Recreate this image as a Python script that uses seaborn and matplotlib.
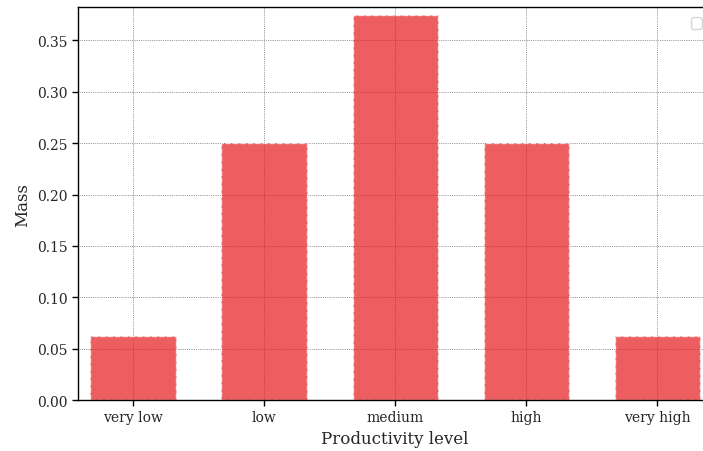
import numpy as np
import pandas as pd
import matplotlib
matplotlib.use('Agg')
import matplotlib.pyplot as plt
import seaborn as sns

levels = ['very low', 'low', 'medium', 'high', 'very high']
mass = [0.0625, 0.25, 0.375, 0.25, 0.0625]

sns.set_style('white')
plt.rcParams['font.family'] = ['DejaVu Serif']

fig = plt.figure(figsize=(7.03, 4.52), dpi=100)
ax = fig.add_axes([0.111, 0.1128, 0.902, 0.8695])

df = pd.DataFrame({'level': levels, 'mass': mass})
sns.barplot(data=df, x='level', y='mass', ax=ax, color='#e41a1c', saturation=1,
            alpha=0.7, width=0.65, edgecolor='white', linestyle='--', linewidth=1)

ax.set_xlim(-0.42, 4.42)
ax.set_ylim(0, 0.3825)
ax.set_yticks(np.arange(0, 0.36, 0.05))
ax.grid(True, linestyle=':', color='black', linewidth=0.5, alpha=0.75)
ax.set_axisbelow(True)
for s in ax.spines.values():
    s.set_color('black')
    s.set_linewidth(1)
ax.tick_params(axis='both', which='major', labelsize=10, length=4, width=1,
               bottom=True, left=True, color='black')
ax.set_xlabel('Productivity level', fontsize=12)
ax.set_ylabel('Mass', fontsize=12)
ax.legend(handles=[], loc='upper right', borderaxespad=0.75)

fig.savefig('out.png', dpi=100)
